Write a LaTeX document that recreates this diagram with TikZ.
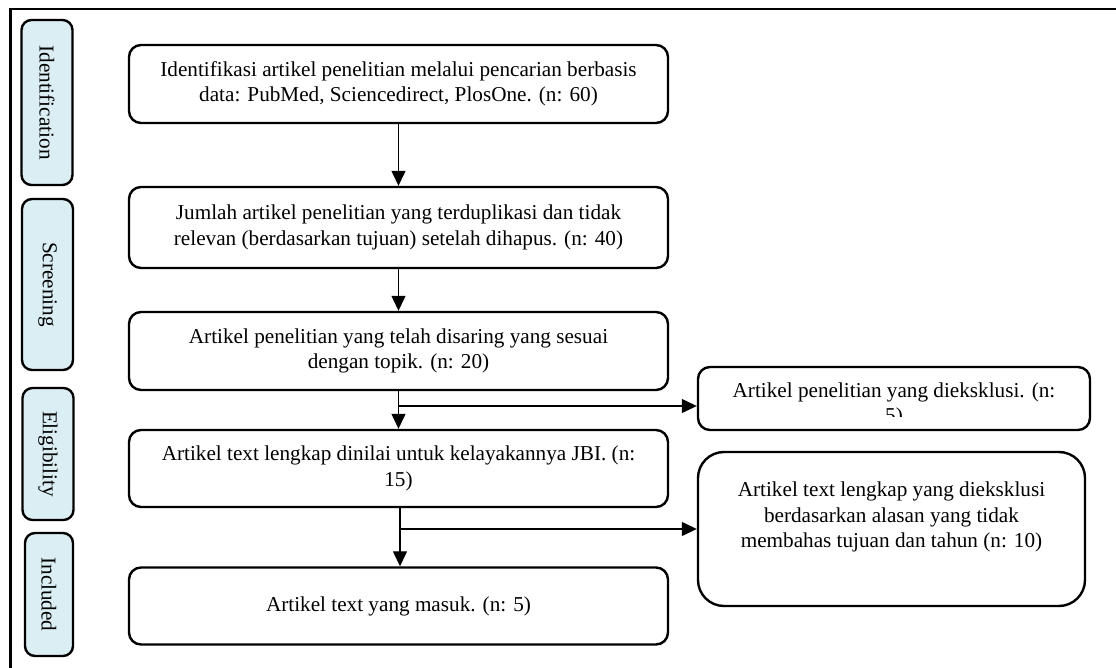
\documentclass[tikz,border=0pt]{standalone}
\usepackage{fontspec}
\setmainfont{Liberation Serif}
\usetikzlibrary{arrows.meta}
\definecolor{lblue}{HTML}{DAEEF3}
\tikzset{
  mainbox/.style={draw, line width=2.4pt, rounded corners=12pt, align=center, inner sep=0pt},
  stagebox/.style={draw, line width=2.4pt, rounded corners=10pt, fill=lblue, rotate=-90, inner sep=0pt, minimum height=51pt},
  arr/.style={line width=1.3pt, -{Triangle[length=15pt,width=14pt]}},
  txt/.style={align=center, inner sep=0pt, font=\fontsize{21.2}{25.5}\selectfont}
}
\begin{document}
\begin{tikzpicture}[x=1pt,y=-1pt]
\useasboundingbox (0,0) rectangle (1116,668);
% frame
\draw[line width=2.4pt] (10.5,668) -- (10.5,9) -- (1116,9);
% stage labels
\node[stagebox, minimum width=165pt] (sid) at (47,102.5) {};
\node[txt, rotate=-90] at (sid.center) {Identification};
\node[stagebox, minimum width=171pt] (ssc) at (47.5,284.5) {};
\node[txt, rotate=-90] at (ssc.center) {Screening};
\node[stagebox, minimum width=132pt] (sel) at (48,454) {};
\node[txt, rotate=-90] at (sel.center) {Eligibility};
\node[stagebox, minimum width=123pt, minimum height=48pt] (sin) at (49,594.5) {};
\node[txt, rotate=-90] at (sin.center) {Included};
% main boxes
\node[mainbox, minimum width=539pt, minimum height=78pt] (b1) at (398.5,84) {};
\node[txt] at (b1.center) {Identifikasi artikel penelitian melalui pencarian berbasis\\data: PubMed, Sciencedirect, PlosOne. (n: 60)};
\node[mainbox, minimum width=539pt, minimum height=81pt] (b2) at (398.5,227.5) {};
\node[txt] at (b2.center) {Jumlah artikel penelitian yang terduplikasi dan tidak\\relevan (berdasarkan tujuan) setelah dihapus. (n: 40)};
\node[mainbox, minimum width=539pt, minimum height=78pt] (b3) at (398.5,351) {};
\node[txt] at (b3.center) {Artikel penelitian yang telah disaring yang sesuai\\dengan topik. (n: 20)};
\node[mainbox, minimum width=539pt, minimum height=77pt] (b4) at (398.5,468.5) {};
\node[txt] at (b4.center) {Artikel text lengkap dinilai untuk kelayakannya JBI. (n:\\15)};
\node[mainbox, minimum width=539pt, minimum height=77pt] (b5) at (398.5,606) {};
\node[txt] at (b5.center) {Artikel text yang masuk. (n: 5)};
% exclusion boxes
\node[mainbox, minimum width=392pt, minimum height=63pt] (e1) at (894,398.5) {};
\begin{scope}
\clip (700,369) rectangle (1088,416);
\node[txt] at (894,405) {Artikel penelitian yang dieksklusi. (n:\\5)};
\end{scope}
\node[mainbox, rounded corners=26pt, minimum width=387pt, minimum height=154pt] (e2) at (891.5,529) {};
\node[txt] at (891.5,517) {Artikel text lengkap yang dieksklusi\\berdasarkan alasan yang tidak\\membahas tujuan dan tahun (n: 10)};
% connectors
\draw[arr] (b1.south) -- (b2.north);
\draw[arr] (b2.south) -- (b3.north);
\draw[arr] (b3.south) -- (b4.north);
\coordinate (j1) at (398.5,406);
\draw[arr] (j1) -- (j1 -| e1.west);
\draw[arr] ([xshift=1.5pt]b4.south) -- ([xshift=1.5pt]b5.north);
\coordinate (j2) at (400,529);
\draw[arr] (j2) -- (j2 -| e2.west);
\end{tikzpicture}
\end{document}
